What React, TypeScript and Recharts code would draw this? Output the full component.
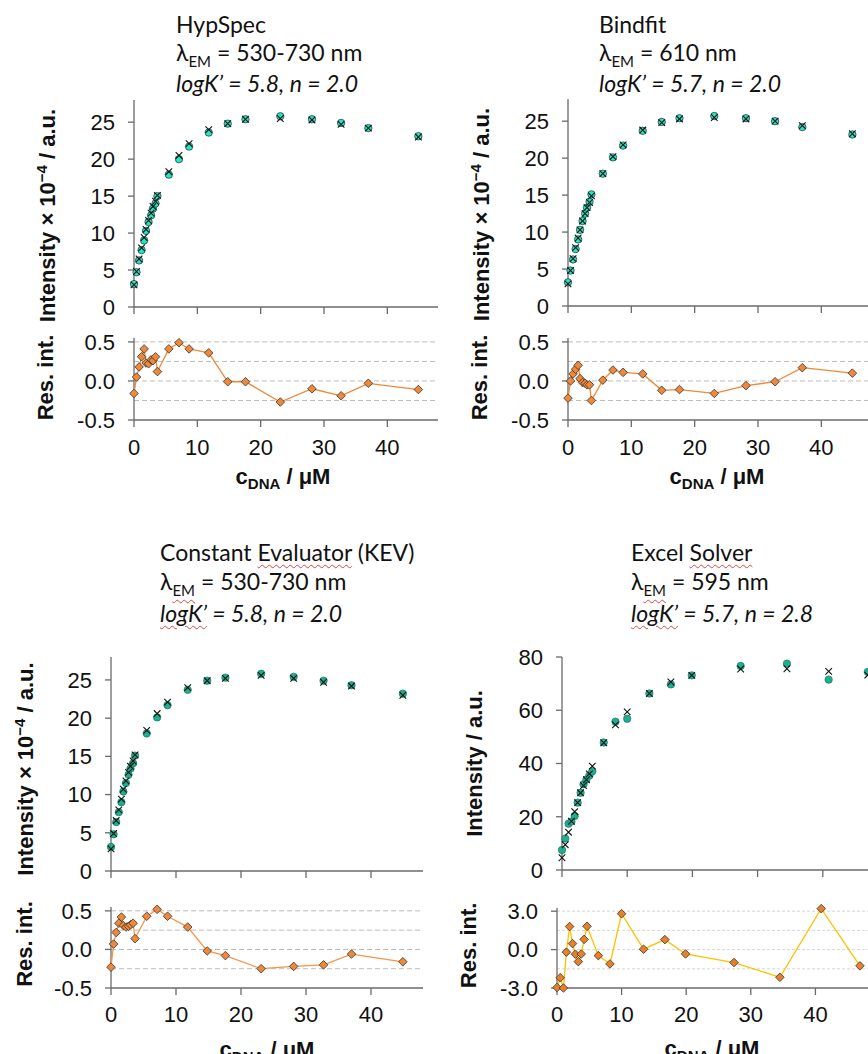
import React from "react"
import { ScatterChart, Scatter, XAxis, YAxis, ReferenceLine } from "recharts"

const SANS = "'Liberation Sans', Arial, sans-serif"
const TITLE_FONT = "Lato, 'Open Sans', sans-serif"
const AXIS = "#6a6a6a"

// DNA concentration (µM), same titration for HypSpec / Bindfit / KEV
const cDna = [0, 0.4, 0.8, 1.2, 1.6, 1.9, 2.3, 2.7, 3.0, 3.4, 3.7, 5.5, 7.1, 8.7, 11.8, 14.8, 17.6, 23.1, 28.1, 32.7, 37.0, 44.9]
// Excel Solver set
const cDnaExcel = [0, 0.5, 1.0, 1.45, 1.95, 2.4, 2.85, 3.3, 3.75, 4.2, 4.65, 6.4, 8.2, 10.0, 13.4, 16.7, 19.9, 27.4, 34.5, 40.9, 46.9]

const hypObs = [3.1, 4.7, 6.3, 7.7, 9.0, 10.3, 11.5, 12.4, 13.3, 14.0, 15.0, 17.9, 20.0, 21.7, 23.6, 24.8, 25.4, 25.8, 25.4, 24.9, 24.2, 23.1]
const hypFit = [3.0, 4.8, 6.5, 8.0, 9.4, 10.5, 11.7, 12.7, 13.6, 14.3, 15.1, 18.3, 20.5, 22.1, 24.0, 24.8, 25.4, 25.5, 25.3, 24.7, 24.2, 23.0]
const hypRes = [-0.16, 0.05, 0.18, 0.31, 0.41, 0.23, 0.22, 0.27, 0.26, 0.31, 0.12, 0.41, 0.49, 0.41, 0.36, -0.01, -0.01, -0.27, -0.1, -0.19, -0.03, -0.11]

const bindObs = [3.2, 4.8, 6.3, 7.7, 9.0, 10.3, 11.5, 12.5, 13.3, 14.1, 15.1, 17.9, 20.1, 21.7, 23.7, 24.9, 25.4, 25.7, 25.4, 25.0, 24.2, 23.2]
const bindFit = [3.0, 4.8, 6.4, 7.9, 9.2, 10.3, 11.5, 12.5, 13.3, 14.0, 14.9, 17.9, 20.2, 21.8, 23.8, 24.8, 25.3, 25.5, 25.3, 25.0, 24.4, 23.3]
const bindRes = [-0.22, 0.0, 0.09, 0.15, 0.2, 0.03, -0.02, -0.03, -0.05, -0.05, -0.25, 0.01, 0.14, 0.11, 0.09, -0.12, -0.11, -0.16, -0.06, -0.01, 0.17, 0.1]

const kevObs = [3.15, 4.8, 6.4, 7.7, 9.0, 10.4, 11.5, 12.6, 13.4, 14.1, 15.1, 18.0, 20.1, 21.7, 23.7, 24.9, 25.3, 25.8, 25.4, 24.9, 24.3, 23.2]
const kevFit = [2.9, 4.9, 6.6, 8.0, 9.4, 10.7, 11.8, 12.9, 13.7, 14.4, 15.2, 18.4, 20.6, 22.1, 24.0, 24.9, 25.2, 25.6, 25.2, 24.7, 24.2, 23.0]
const kevRes = [-0.23, 0.07, 0.22, 0.34, 0.42, 0.31, 0.29, 0.3, 0.32, 0.34, 0.14, 0.43, 0.52, 0.43, 0.29, -0.02, -0.08, -0.25, -0.22, -0.2, -0.06, -0.16]

const xlObs = [7.5, 11.8, 17.4, 18.2, 20.3, 25.3, 29.0, 32.2, 34.0, 35.5, 37.1, 47.9, 55.7, 56.8, 66.3, 69.7, 73.1, 76.6, 77.5, 71.5, 74.4]
const xlFit = [4.6, 9.5, 14.2, 18.3, 21.9, 25.3, 29.0, 31.7, 33.9, 36.1, 39.0, 47.8, 54.5, 59.4, 66.3, 70.6, 73.1, 75.5, 75.6, 74.6, 73.2]
const xlRes = [-2.96, -2.2, -3.0, -0.2, 1.8, 0.47, -0.36, -0.94, -0.34, 0.8, 1.82, -0.47, -1.12, 2.8, 0.03, 0.78, -0.34, -1.01, -2.16, 3.2, -1.27]

const xTicks = [0, 10, 20, 30, 40]
const xTicksWide = [0, 10, 20, 30, 40, 50]
const intTicks = [0, 5, 10, 15, 20, 25]
const xlIntTicks = [0, 20, 40, 60, 80]
const resTicks = [-0.5, 0, 0.5]
const resGrid = [0.5, 0.25, 0, -0.25]
const xlResTicks = [-3, 0, 3]
const xlResGrid = [3, 1.5, 0, -1.5]

const zip = (xs: number[], ys: number[]) => xs.map((x, i) => ({ x, y: ys[i] }))

const PAD_L = 110
const PAD_T = 12
const PAD_R = 12
const AXIS_H = 80

const dot = (fill: string, stroke: string) => (p: any) => (
  <circle cx={p.cx} cy={p.cy} r={3.7} fill={fill} stroke={stroke} strokeWidth={0.7} />
)
const cross = (p: any) => {
  const s = 3.3
  return (
    <path
      d={`M${p.cx - s},${p.cy - s}L${p.cx + s},${p.cy + s}M${p.cx + s},${p.cy - s}L${p.cx - s},${p.cy + s}`}
      stroke="#111"
      strokeWidth={1.1}
      fill="none"
    />
  )
}
const diamond = (fill: string) => (p: any) => {
  const s = 4.3
  return (
    <path
      d={`M${p.cx},${p.cy - s}L${p.cx + s},${p.cy}L${p.cx},${p.cy + s}L${p.cx - s},${p.cy}Z`}
      fill={fill}
      stroke="#333"
      strokeWidth={0.8}
    />
  )
}

const intensityTitle = (
  <>
    Intensity × 10
    <tspan dy={-8} fontSize={15}>−4</tspan>
    <tspan dy={8}> / a.u.</tspan>
  </>
)

type FrameProps = {
  left: number
  top: number
  w: number
  h: number
  xDomain: [number, number]
  xTicks: number[]
  yDomain: [number, number]
  yTicks: number[]
  yFmt?: (v: number) => string
  showX?: boolean
  xTickMargin?: number
  yTitle: React.ReactNode
  yTitleDist: number
  yTitleDy: number
  xTitle?: { dx: number; dy: number }
  children: React.ReactNode
}

function Frame(props: FrameProps) {
  const { left, top, w, h, yTitle, yTitleDist, yTitleDy, xTitle } = props
  const yx = PAD_L - yTitleDist
  const yy = PAD_T + h / 2 + yTitleDy
  return (
    <div style={{ position: "absolute", left: left - PAD_L, top: top - PAD_T }}>
      <ScatterChart
        width={PAD_L + w + PAD_R}
        height={PAD_T + h + AXIS_H}
        margin={{ top: PAD_T, right: PAD_R, bottom: 0, left: 0 }}
      >
        <XAxis
          type="number"
          dataKey="x"
          domain={props.xDomain}
          ticks={props.xTicks}
          interval={0}
          height={AXIS_H}
          stroke={AXIS}
          strokeWidth={1.3}
          tickSize={7}
          tickMargin={props.xTickMargin ?? 12}
          tick={{ fontSize: 22, fill: "#111", fontFamily: SANS }}
          tickFormatter={props.showX ? (v: number) => String(v) : () => ""}
          label={
            xTitle
              ? () => (
                  <text
                    x={PAD_L + xTitle.dx}
                    y={PAD_T + h + xTitle.dy}
                    textAnchor="middle"
                    fontFamily={SANS}
                    fontWeight={700}
                    fontSize={22}
                    fill="#111"
                  >
                    c<tspan dy={5} fontSize={15}>DNA</tspan>
                    <tspan dy={-5}> / μM</tspan>
                  </text>
                )
              : undefined
          }
        />
        <YAxis
          type="number"
          dataKey="y"
          domain={props.yDomain}
          ticks={props.yTicks}
          interval={0}
          width={PAD_L}
          stroke={AXIS}
          strokeWidth={1.3}
          tickSize={6}
          tickMargin={13}
          tick={{ fontSize: 22, fill: "#111", fontFamily: SANS }}
          tickFormatter={props.yFmt}
          label={() => (
            <text
              x={yx}
              y={yy}
              transform={`rotate(-90 ${yx} ${yy})`}
              textAnchor="middle"
              fontFamily={SANS}
              fontWeight={700}
              fontSize={22}
              fill="#111"
            >
              {yTitle}
            </text>
          )}
        />
        {props.children}
      </ScatterChart>
    </div>
  )
}

const fmt1 = (v: number) => v.toFixed(1)

const wavy: React.CSSProperties = {
  textDecorationLine: "underline",
  textDecorationStyle: "wavy",
  textDecorationColor: "#e0463f",
  textDecorationThickness: "1px",
  textUnderlineOffset: "3px",
}

function Title(props: {
  left: number
  top: number
  lh: number
  size: number
  heading: React.ReactNode
  lambda: string
  fit: string
  marked?: boolean
}) {
  const mark = props.marked ? wavy : undefined
  return (
    <div
      style={{
        position: "absolute",
        left: props.left,
        top: props.top,
        fontFamily: TITLE_FONT,
        fontSize: props.size,
        lineHeight: `${props.lh}px`,
        color: "#111",
        whiteSpace: "nowrap",
      }}
    >
      <div>{props.heading}</div>
      <div>
        λ<span style={{ fontSize: 15, position: "relative", top: 6, ...mark }}>EM</span> = {props.lambda}
      </div>
      <div style={{ fontStyle: "italic" }}>
        <span style={mark}>logK’</span> = {props.fit}
      </div>
    </div>
  )
}

function MainSeries(obs: { x: number; y: number }[], fit: { x: number; y: number }[], fill: string, stroke: string) {
  return [
    <Scatter key="obs" data={obs} isAnimationActive={false} shape={dot(fill, stroke)} />,
    <Scatter key="fit" data={fit} isAnimationActive={false} shape={cross} />,
  ]
}

function ResSeries(res: { x: number; y: number }[], grid: number[], lineColor: string, fill: string, dash: string, gridColor: string) {
  return [
    ...grid.map((g) => <ReferenceLine key={"g" + g} y={g} stroke={gridColor} strokeDasharray={dash} strokeWidth={1} />),
    <Scatter
      key="res"
      data={res}
      isAnimationActive={false}
      line={{ stroke: lineColor, strokeWidth: 1.3 }}
      shape={diamond(fill)}
    />,
  ]
}

const TEAL_TOP = "#1ee8c6"
const TEAL_BOT = "#1fae8f"
const ORANGE = "#f0883a"

export default function App() {
  return (
    <div style={{ position: "relative", width: 868, height: 1054, overflow: "hidden", background: "#fff" }}>
      <style>{"html,body{margin:0;padding:0;overflow:hidden;background:#fff}"}</style>

      <Title left={176} top={9.5} lh={28} size={23} heading="HypSpec" lambda="530-730 nm" fit="5.8, n = 2.0" />
      <Title left={599} top={9.5} lh={28} size={23} heading="Bindfit" lambda="610 nm" fit="5.7, n = 2.0" />
      <Title
        left={160}
        top={538}
        lh={29}
        size={23}
        marked
        heading={
          <>
            Constant <span style={wavy}>Evaluator</span> (KEV)
          </>
        }
        lambda="530-730 nm"
        fit="5.8, n = 2.0"
      />
      <Title
        left={631}
        top={538}
        lh={29}
        size={23}
        marked
        heading={
          <>
            Excel <span style={wavy}>Solver</span>
          </>
        }
        lambda="595 nm"
        fit="5.7, n = 2.8"
      />

      {/* HypSpec */}
      <Frame left={134} top={100} w={304} h={207} xDomain={[0, 48]} xTicks={xTicks} yDomain={[0, 28]} yTicks={intTicks}
        yTitle={intensityTitle} yTitleDist={79} yTitleDy={12}>
        {MainSeries(zip(cDna, hypObs), zip(cDna, hypFit), TEAL_TOP, "#2a2a2a")}
      </Frame>
      <Frame left={134} top={338} w={304} h={82} xDomain={[0, 48]} xTicks={xTicks} yDomain={[-0.5, 0.55]} yTicks={resTicks}
        yFmt={fmt1} showX yTitle="Res. int." yTitleDist={81} yTitleDy={-1.5} xTitle={{ dx: 149, dy: 64 }}>
        {ResSeries(zip(cDna, hypRes), resGrid, ORANGE, ORANGE, "5 3", "#bdbdbd")}
      </Frame>

      {/* Bindfit */}
      <Frame left={568} top={99} w={304} h={207} xDomain={[0, 48]} xTicks={xTicks} yDomain={[0, 28]} yTicks={intTicks}
        yTitle={intensityTitle} yTitleDist={79} yTitleDy={12}>
        {MainSeries(zip(cDna, bindObs), zip(cDna, bindFit), TEAL_TOP, "#2a2a2a")}
      </Frame>
      <Frame left={568} top={338} w={304} h={82} xDomain={[0, 48]} xTicks={xTicks} yDomain={[-0.5, 0.55]} yTicks={resTicks}
        yFmt={fmt1} showX yTitle="Res. int." yTitleDist={81} yTitleDy={-1.5} xTitle={{ dx: 149, dy: 64 }}>
        {ResSeries(zip(cDna, bindRes), resGrid, ORANGE, ORANGE, "5 3", "#bdbdbd")}
      </Frame>

      {/* KEV */}
      <Frame left={111} top={657} w={312} h={214} xDomain={[0, 48]} xTicks={xTicks} yDomain={[0, 28]} yTicks={intTicks}
        yTitle={intensityTitle} yTitleDist={78} yTitleDy={5}>
        {MainSeries(zip(cDna, kevObs), zip(cDna, kevFit), TEAL_BOT, "#157a64")}
      </Frame>
      <Frame left={111} top={907} w={312} h={81} xDomain={[0, 48]} xTicks={xTicks} yDomain={[-0.5, 0.55]} yTicks={resTicks}
        yFmt={fmt1} showX xTickMargin={11} yTitle="Res. int." yTitleDist={79} yTitleDy={-3.5} xTitle={{ dx: 156, dy: 69 }}>
        {ResSeries(zip(cDna, kevRes), resGrid, "#f5954a", ORANGE, "5 3", "#bdbdbd")}
      </Frame>

      {/* Excel Solver */}
      <Frame left={562} top={657} w={326} h={213} xDomain={[0, 50]} xTicks={xTicksWide} yDomain={[0, 80]} yTicks={xlIntTicks}
        yTitle="Intensity / a.u." yTitleDist={80} yTitleDy={0}>
        {MainSeries(zip(cDnaExcel, xlObs), zip(cDnaExcel, xlFit), TEAL_BOT, "#157a64")}
      </Frame>
      <Frame left={557} top={907.5} w={323} h={80} xDomain={[0, 50]} xTicks={xTicksWide} yDomain={[-3, 3.25]} yTicks={xlResTicks}
        yFmt={fmt1} showX xTickMargin={11} yTitle="Res. int." yTitleDist={81} yTitleDy={-2.6} xTitle={{ dx: 155, dy: 68 }}>
        {ResSeries(zip(cDnaExcel, xlRes), xlResGrid, "#ffc000", "#e8802a", "3 2", "#d6d6d6")}
      </Frame>
    </div>
  )
}
